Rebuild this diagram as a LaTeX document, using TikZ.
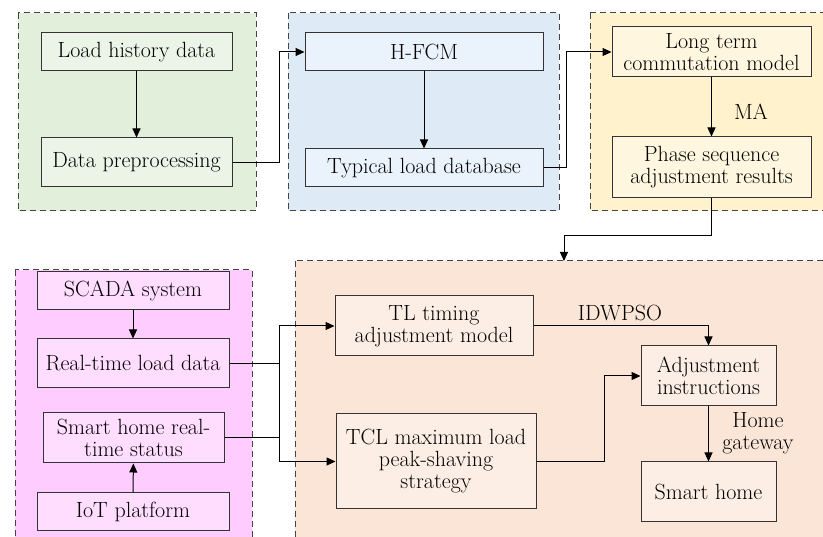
\documentclass[tikz,border=0pt]{standalone}
\usetikzlibrary{arrows.meta}
\definecolor{gA}{HTML}{E2EFDA}\definecolor{gAn}{HTML}{EBF4E6}
\definecolor{gB}{HTML}{DEEBF7}\definecolor{gBn}{HTML}{EAF2FB}
\definecolor{gC}{HTML}{FFF2CC}\definecolor{gCn}{HTML}{FFF6DF}
\definecolor{gD}{HTML}{FFCCFF}\definecolor{gDn}{HTML}{FFDDFF}
\definecolor{gE}{HTML}{FBE5D6}\definecolor{gEn}{HTML}{FCEEE4}
\definecolor{bord}{HTML}{333333}
\definecolor{dsh}{HTML}{444444}
\tikzset{
  grp/.style={draw=dsh, line width=1pt, dash pattern=on 6pt off 4pt},
  box/.style={draw=bord, line width=1pt, inner sep=1pt, align=center, font=\fontsize{22}{22}\selectfont},
  arr/.style={draw=black, line width=1pt, -{Triangle[length=9pt,width=8pt]}},
  ln/.style={draw=black, line width=1pt},
  lbl/.style={font=\fontsize{22}{22}\selectfont, align=center, inner sep=0pt}
}
\begin{document}
\begin{tikzpicture}[x=1pt,y=-1pt]
\useasboundingbox (0,0) rectangle (823,537);
\clip (0,0) rectangle (823,537);
% groups
\path[grp, fill=gA] (18,13) rectangle (256,211);
\path[grp, fill=gB] (288,13) rectangle (559,211);
\path[grp, fill=gC] (590,13) rectangle (830,211);
\path[grp, fill=gD] (15,270) rectangle (252,545);
\path[grp, fill=gE] (295,261) rectangle (830,545);
% nodes
\node[box, fill=gAn, minimum width=191pt, minimum height=38pt] (lhd) at (136.5,52) {Load history data};
\node[box, fill=gAn, minimum width=191pt, minimum height=49pt] (dp) at (136.5,162.5) {Data preprocessing};
\node[box, fill=gBn, minimum width=238pt, minimum height=38pt] (hfcm) at (424,52) {H-FCM};
\node[box, fill=gBn, minimum width=238pt, minimum height=38pt] (tld) at (424,168) {Typical load database};
\node[box, fill=gCn, minimum width=199pt, minimum height=50pt] (ltcm) at (711.5,52) {Long term\\commutation model};
\node[box, fill=gCn, minimum width=199pt, minimum height=61pt] (psar) at (711.5,167.5) {Phase sequence\\adjustment results};
\node[box, fill=gDn, minimum width=192pt, minimum height=38pt] (scada) at (133,291) {SCADA system};
\node[box, fill=gDn, minimum width=192pt, minimum height=49pt] (rtld) at (133,363.5) {Real-time load data};
\node[box, fill=gDn, minimum width=181pt, minimum height=50pt] (shrs) at (133.5,438) {Smart home real-\\time status};
\node[box, fill=gDn, minimum width=192pt, minimum height=38pt] (iot) at (133,512) {IoT platform};
\node[box, fill=gEn, minimum width=198pt, minimum height=60pt] (tl) at (434,326) {TL timing\\adjustment model};
\node[box, fill=gEn, minimum width=200pt, minimum height=95pt] (tcl) at (436,461.5) {TCL maximum load\\peak-shaving\\strategy};
\node[box, fill=gEn, minimum width=135pt, minimum height=60pt] (adj) at (708.5,376) {Adjustment\\instructions};
\node[box, fill=gEn, minimum width=135pt, minimum height=60pt] (sh) at (708.5,492) {Smart home};
% labels
\node[lbl] (ma) at (751,112) {MA};
\node[lbl] (idw) at (620,313) {IDWPSO};
\node[lbl] (hg) at (758,433) {Home\\gateway};
% connectors
\coordinate (bx) at (279,0);
\coordinate (g5in) at (564,261);
\draw[arr] (lhd) -- (dp);
\draw[arr] (dp.east) -- ++(47,0) |- (hfcm.west);
\draw[arr] (hfcm) -- (tld);
\draw[arr] (tld.east) -- ++(23,0) |- (ltcm.west);
\draw[arr] (ltcm) -- (psar);
\draw[arr] (psar.south) -- ++(0,37) -| (g5in);
\draw[arr] (scada) -- (rtld);
\draw[arr] (iot) -- (shrs);
\draw[ln] (rtld.east) -- (rtld.east -| bx);
\draw[ln] (shrs.east) -- (shrs.east -| bx);
\draw[arr] (rtld.east -| bx) |- (tl.west);
\draw[arr] (rtld.east -| bx) |- (tcl.west);
\draw[arr] (tl.east) -| (adj.north);
\draw[arr] (tcl.east) -- ++(68,0) |- (adj.west);
\draw[arr] (adj) -- (sh);
\end{tikzpicture}
\end{document}
